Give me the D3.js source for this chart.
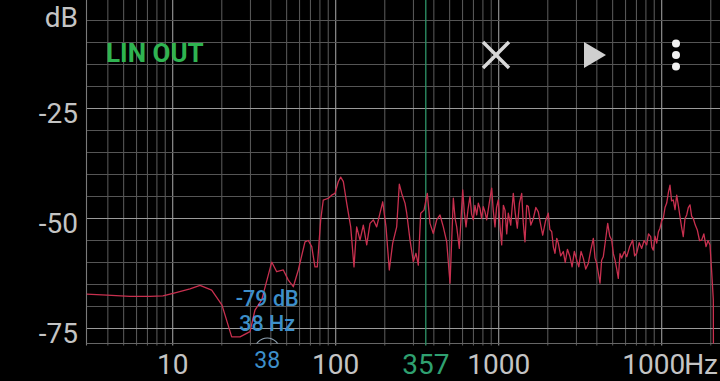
<!DOCTYPE html>
<html><head><meta charset="utf-8">
<script src="https://cdn.jsdelivr.net/npm/d3@7/dist/d3.min.js"></script>
<style>
html,body{margin:0;padding:0;background:#000;overflow:hidden;}
svg{display:block;}
text{font-family:Roboto,"Noto Sans",sans-serif;}
</style></head>
<body>
<svg id="c" width="720" height="381"></svg>
<script>
// ---- data ----
const freqs = [2.96,3.95,5.47,7.26,8.72,10.33,12.77,14.71,17.35,20.07,23.01,25.88,29.8,31.98,35.16,40.5,43.45,47.7,51.2,54.95,58.97,64.8,67.9,71.3,74.6,77.1,80.9,83.9,90.1,94.5,99.0,103.8,107.3,111.4,116.8,123.6,129.5,134.5,141.0,147.7,155.0,162.4,170.1,178.4,194.3,203.5,213.2,223.7,236.7,245.6,254.1,266.2,272.7,285.7,299.4,310.9,321.2,332.2,348.1,364.8,378.9,397.0,416.5,
  436.4,457.2,479.8,502.8,526.8,540,552.6,573.3,601.5,615,630.3,648,666.5,682,698.4,715,732.8,750,767.8,785,804.4,824,844.0,875,905.7,925,949.0,970,994.3,
  1020,1043,1068,1093,1120,1145,1185,1229,1265,1301,1340,1384,1415,1450,1485,1519,1575,1631,1690,1749,1800,1862,1940,2015,2060,2115,2165,2215,2270,2321,2400,2491,2560,2640,2738,2820,2910,3010,3100,3200,3304,3420,3545,3680,3806,3900,3993,4090,4183,4280,4382,4520,4664,4800,4935,5050,5170,5300,5416,5550,5682,5900,6101,6350,6637,6820,7023,7280,7540,7800,8091,8300,8560,8700,8882,9100,9318,9550,9763,10000,10228,10480,10732,11000,11242,11500,11783,12070,12359,12650,12950,13250,13565,13900,14234,14570,14913,15270,15624,16070,16534,17060,17597,18140,18702,19240,19788,20250,20733,20800];
const levels = [-67.2,-67.4,-67.7,-67.7,-67.6,-66.9,-66.0,-65.2,-66.3,-69.7,-76.9,-76.9,-75.7,-70.8,-68.5,-59.9,-62.1,-61.7,-64.0,-65.5,-61.7,-55.3,-55.0,-56.4,-61.0,-61.0,-50.3,-45.8,-45.4,-44.7,-44.3,-41.6,-40.6,-41.6,-46.5,-51.9,-61.0,-51.9,-54.9,-51.5,-56.0,-51.1,-50.3,-51.9,-46.2,-51.9,-61.7,-55.6,-51.9,-42.2,-44.3,-46.5,-48.8,-54.9,-59.8,-57.9,-60.6,-48.8,-48.1,-44.3,-51.1,-53.4,-50.3,
  -49.2,-51.9,-55.3,-64.7,-45.4,-50.0,-51.9,-56.8,-43.5,-48.5,-51.9,-48.0,-45.0,-49.0,-50.3,-47.0,-49.2,-46.5,-47.7,-50.0,-47.3,-48.5,-50.3,-46.5,-43.1,-48.0,-51.9,-47.5,-45.8,
  -52.0,-56.0,-47.0,-48.1,-53.5,-48.8,-51.5,-44.3,-49.0,-52.2,-46.5,-44.3,-51.0,-55.3,-47.0,-47.3,-51.5,-50.0,-47.5,-48.5,-51.0,-53.8,-50.5,-48.8,-52.5,-53.0,-56.5,-57.9,-54.5,-55.6,-58.5,-57.5,-60.0,-57.0,-58.7,-61.0,-57.5,-59.4,-61.0,-57.5,-59.0,-61.5,-60.2,-57.0,-54.5,-59.0,-60.2,-62.5,-64.7,-59.5,-58.7,-55.0,-51.1,-54.0,-54.9,-58.0,-59.4,-61.5,-63.6,-58.0,-59.0,-57.5,-58.7,-56.5,-54.9,-58.5,-57.9,-55.5,-56.8,-55.0,-56.0,-53.5,-54.1,-56.5,-57.2,-54.0,-55.6,-53.0,-52.2,-50.5,-50.0,-47.5,-46.5,-44.0,-42.4,-46.0,-45.8,-48.0,-44.7,-47.0,-49.6,-52.0,-54.1,-50.0,-49.2,-47.5,-46.9,-49.5,-50.0,-51.5,-52.6,-55.0,-54.9,-53.5,-56.4,-55.0,-56.0,-62.0,-68.5,-90];
const yTickValues = [-25, -50, -75];
const yTickLabels = ["-25", "-50", "-75"];
const xTickValues = [10, 100, 1000, 10000];
const xTickLabels = ["10", "100", "1000", "10000"];
const markerFreq = 357;
const cursorFreq = 38, cursorLevel = -79, cursorCircleLevel = -80;
const modeLabel = "LIN OUT";

// ---- layout ----
const W = 720, H = 381;
const plotL = 86.5, plotR = 720, plotT = 0, plotB = 343.5;
const x = d3.scaleLog().domain([10, 10000]).range([172.7, 661.7]);
const y = d3.scaleLinear().domain([-25, -75]).range([108.5, 328.5]);

const svg = d3.select("#c");
svg.append("rect").attr("width", W).attr("height", H).attr("fill", "#000");

const defs = svg.append("defs");
defs.append("clipPath").attr("id", "pc")
  .append("rect").attr("x", plotL).attr("y", plotT).attr("width", plotR - plotL).attr("height", plotB - plotT);

const g = svg.append("g");

// grid - vertical
const fMin = x.invert(plotL), fMax = x.invert(plotR);
const vLines = [];
for (let e = 0; e <= 4; e++) {
  for (let m = 1; m <= 9; m++) {
    const f = m * Math.pow(10, e);
    if (f > fMin + 0.05 && f < fMax) vLines.push({f, major: m === 1});
  }
}
g.selectAll("line.v").data(vLines).join("line")
  .attr("x1", d => x(d.f)).attr("x2", d => x(d.f))
  .attr("y1", plotT).attr("y2", plotB + 2)
  .attr("stroke", d => d.major ? "#9a9a9a" : "#555")
  .attr("stroke-width", 1.1);

// grid - horizontal
const hLines = [];
for (let v = 0; v >= -80; v -= 5) {
  const yy = y(v);
  if (yy > plotT && yy < plotB) hLines.push({v, major: v % 25 === 0});
}
g.selectAll("line.h").data(hLines).join("line")
  .attr("x1", plotL).attr("x2", plotR)
  .attr("y1", d => y(d.v)).attr("y2", d => y(d.v))
  .attr("stroke", d => d.major ? "#9a9a9a" : "#555")
  .attr("stroke-width", 1.1);

// borders
g.append("line").attr("x1", plotL).attr("x2", plotL).attr("y1", plotT).attr("y2", plotB + 2)
  .attr("stroke", "#7a7a7a").attr("stroke-width", 1.1);
g.append("line").attr("x1", plotL).attr("x2", plotR).attr("y1", plotB).attr("y2", plotB)
  .attr("stroke", "#666").attr("stroke-width", 1.1);

// marker line (green)
g.append("line").attr("x1", x(markerFreq)).attr("x2", x(markerFreq))
  .attr("y1", plotT).attr("y2", plotB + 2)
  .attr("stroke", "#2e9468").attr("stroke-width", 1.3);

// data curve
const pts = freqs.map((f, i) => [f, levels[i]]);
const line = d3.line().x(d => x(d[0])).y(d => y(d[1]));
g.append("path").datum(pts)
  .attr("clip-path", "url(#pc)")
  .attr("d", line)
  .attr("fill", "none")
  .attr("stroke", "#c8304f")
  .attr("stroke-width", 1.3)
  .attr("stroke-linejoin", "round");

// cursor circle
g.append("circle").attr("clip-path", "url(#pc)")
  .attr("cx", x(cursorFreq)).attr("cy", y(cursorCircleLevel)).attr("r", 12.5)
  .attr("fill", "none").attr("stroke", "#8fa2b2").attr("stroke-width", 1.1);

// cursor labels
const blue = "#3d8fca";
g.append("text").attr("x", x(cursorFreq)).attr("y", 306)
  .attr("text-anchor", "middle").attr("font-size", 21.5).attr("font-weight", 500).attr("fill", blue)
  .text(cursorLevel + " dB");
g.append("text").attr("x", x(cursorFreq)).attr("y", 331)
  .attr("text-anchor", "middle").attr("font-size", 21.5).attr("font-weight", 500).attr("fill", blue)
  .text(cursorFreq + " Hz");

// y labels
const grey = "#c4c4c4";
g.selectAll("text.yl").data(yTickValues).join("text")
  .attr("x", 78).attr("y", d => y(d) + 14.3)
  .attr("text-anchor", "end").attr("font-size", 28).attr("fill", grey)
  .text((d, i) => yTickLabels[i]);
g.append("text").attr("x", 78).attr("y", 26.5).attr("text-anchor", "end")
  .attr("font-size", 28).attr("fill", grey).text("dB");

// x labels
g.selectAll("text.xl").data(xTickValues).join("text")
  .attr("x", d => x(d)).attr("y", 374)
  .attr("text-anchor", "middle").attr("font-size", 28).attr("fill", grey)
  .text((d, i) => xTickLabels[i]);
g.append("text").attr("x", x(markerFreq)).attr("y", 374)
  .attr("text-anchor", "middle").attr("font-size", 28).attr("fill", "#2fa070")
  .text(markerFreq);
g.append("text").attr("x", x(cursorFreq)).attr("y", 368)
  .attr("text-anchor", "middle").attr("font-size", 23).attr("fill", blue)
  .text(cursorFreq);
// Hz unit drawn over the end of the last label
g.append("rect").attr("x", 687).attr("y", 348).attr("width", 33).attr("height", 33).attr("fill", "#000");
g.append("text").attr("x", 718).attr("y", 374).attr("text-anchor", "end")
  .attr("font-size", 28).attr("fill", grey).text("Hz");

// mode label
g.append("text").attr("x", 106).attr("y", 61.5).attr("font-size", 26).attr("font-weight", "bold")
  .attr("fill", "#2fb451").text(modeLabel);

// icons
const ic = g.append("g");
ic.append("path").attr("d", "M483,42L509,68M509,42L483,68")
  .attr("stroke", "#d8d8d8").attr("stroke-width", 3.5).attr("fill", "none");
ic.append("path").attr("d", "M584,42L606,55L584,68Z").attr("fill", "#cfcfcf");
[43.5, 55, 66.5].forEach(cy => ic.append("circle").attr("cx", 676).attr("cy", cy).attr("r", 4).attr("fill", "#f2f2f2"));
</script>
</body></html>
